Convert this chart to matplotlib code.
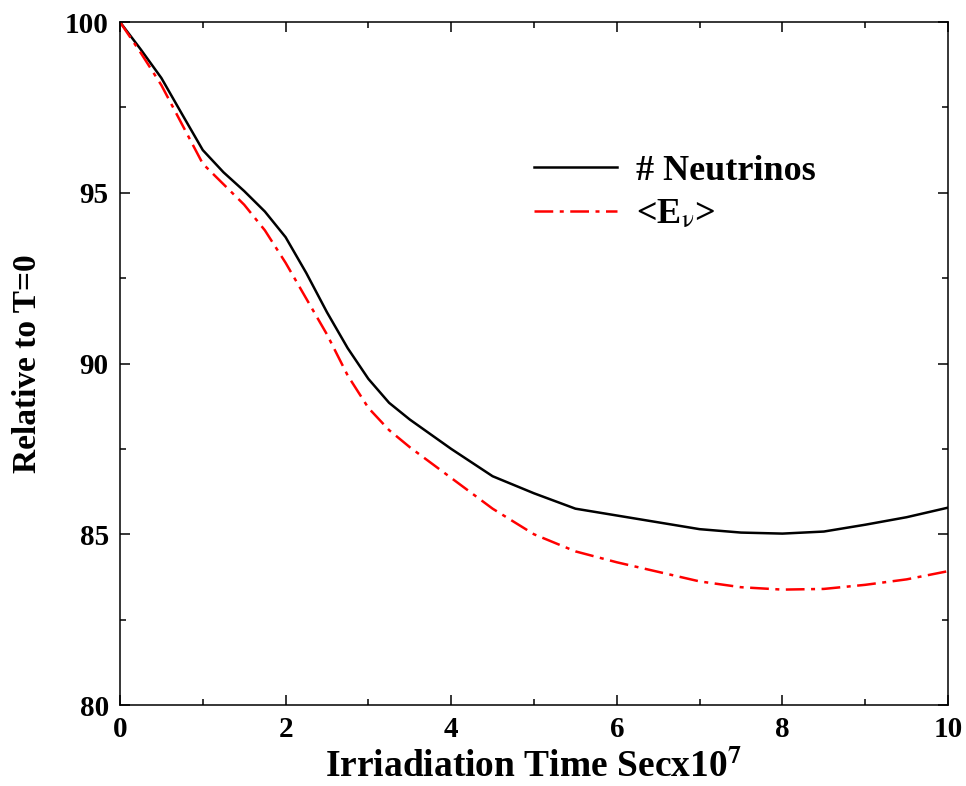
import matplotlib
matplotlib.use("Agg")
import matplotlib.pyplot as plt
from matplotlib.ticker import MultipleLocator

plt.rcParams['font.family'] = ['Liberation Serif', 'DejaVu Serif']
plt.rcParams['mathtext.fontset'] = 'stix'

time = [0, 0.25, 0.5, 0.75, 1.0, 1.25, 1.5, 1.75, 2.0, 2.25, 2.5, 2.75, 3.0, 3.25,
        3.5, 4.0, 4.5, 5.0, 5.5, 6.0, 6.5, 7.0, 7.5, 8.0, 8.5, 9.0, 9.5, 10.0]
neutrinos = [100, 99.2, 98.36, 97.3, 96.25, 95.6, 95.05, 94.45, 93.7, 92.65, 91.5, 90.45,
             89.55, 88.85, 88.36, 87.5, 86.7, 86.2, 85.75, 85.55, 85.35, 85.15, 85.05,
             85.02, 85.08, 85.28, 85.5, 85.78]
energy = [100, 99.1, 98.15, 97.0, 95.85, 95.25, 94.65, 93.9, 92.95, 91.9, 90.85, 89.65,
          88.7, 88.05, 87.55, 86.65, 85.75, 85.0, 84.5, 84.18, 83.9, 83.62, 83.45,
          83.38, 83.4, 83.52, 83.68, 83.92]

fig = plt.figure(figsize=(9.66, 7.86), dpi=100)
ax = fig.add_axes([0.1242, 0.103, 0.8572, 0.869])

ax.plot(time, neutrinos, color='black', lw=1.8, label='# Neutrinos')
ax.plot(time, energy, color='red', lw=1.8, dashes=(7.5, 2.6, 1.6, 2.6),
        label=r'<E$_{\mathrm{\nu}}$>')

ax.set_xlim(0, 10)
ax.set_ylim(80, 100)
ax.xaxis.set_major_locator(MultipleLocator(2))
ax.xaxis.set_minor_locator(MultipleLocator(1))
ax.yaxis.set_major_locator(MultipleLocator(5))
ax.yaxis.set_minor_locator(MultipleLocator(2.5))
ax.tick_params(which='both', direction='in', top=True, right=True, width=1.1)
ax.tick_params(which='major', length=7, labelsize=21, pad=8)
ax.tick_params(which='minor', length=4)
for lab in ax.get_xticklabels() + ax.get_yticklabels():
    lab.set_fontweight('bold')
for s in ax.spines.values():
    s.set_linewidth(1.1)

ax.set_xlabel(r'Irriadiation Time Secx10$^{\mathbf{7}}$', fontsize=27,
              fontweight='bold', labelpad=4)
ax.set_ylabel('Relative to T=0', fontsize=24, fontweight='bold', labelpad=16)

leg = ax.legend(loc='upper left', bbox_to_anchor=(0.482, 0.827), frameon=False,
                borderaxespad=0,
                prop={'family': 'Liberation Serif', 'weight': 'bold', 'size': 26},
                handlelength=2.3, handletextpad=0.55, labelspacing=0.28)

fig.savefig('out.png', dpi=100)
